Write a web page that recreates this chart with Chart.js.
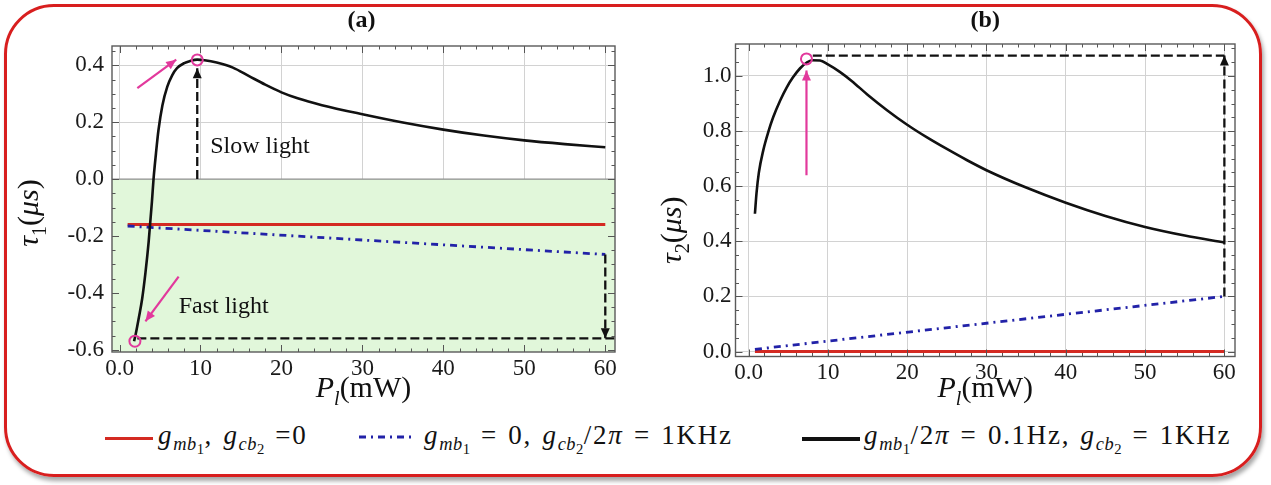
<!DOCTYPE html>
<html><head><meta charset="utf-8">
<script src="https://cdn.jsdelivr.net/npm/chart.js@4.4.1/dist/chart.umd.min.js"></script>
<style>
html,body{margin:0;padding:0;background:#fff;width:1271px;height:485px;overflow:hidden;position:relative;}
#frame{position:absolute;left:4px;top:4px;width:1252px;height:467px;border:3px solid #d81e1e;border-radius:50px;box-shadow:2px 4px 4px rgba(0,0,0,0.35);}
canvas{position:absolute;top:0;}
#ca{left:0;}
#cb{left:650px;}
.leg{position:absolute;top:421px;font-family:"Liberation Serif","Times New Roman",Tinos,"DejaVu Serif","Noto Serif",serif;font-size:27px;letter-spacing:1.7px;word-spacing:2px;color:#111;white-space:nowrap;line-height:28px;}
.leg i{font-style:italic;}
.leg sub{font-size:68%;vertical-align:-0.35em;line-height:0;letter-spacing:0.5px;}
.leg sub sub{font-size:80%;vertical-align:-0.3em;}
.sw{position:absolute;top:437px;height:0;}
</style></head>
<body>
<div id="frame"></div>
<canvas id="ca" width="650" height="410"></canvas>
<canvas id="cb" width="621" height="410"></canvas>

<div class="sw" style="left:105px;width:48px;border-top:3px solid #d42a22;"></div>
<div class="leg" style="left:158px;"><i>g</i><sub><i>mb</i><sub>1</sub></sub>, <i>g</i><sub><i>cb</i><sub>2</sub></sub> =0</div>
<svg style="position:absolute;left:359px;top:432px" width="52" height="10"><line x1="0" y1="5" x2="52" y2="5" stroke="#2222a8" stroke-width="3" stroke-dasharray="7,5,2,5"/></svg>
<div class="leg" style="left:424px;"><i>g</i><sub><i>mb</i><sub>1</sub></sub> = 0, <i>g</i><sub><i>cb</i><sub>2</sub></sub>/2<i>π</i> = 1KHz</div>
<div class="sw" style="left:802px;width:58px;border-top:4px solid #111;"></div>
<div class="leg" style="left:864px;"><i>g</i><sub><i>mb</i><sub>1</sub></sub>/2<i>π</i> = 0.1Hz, <i>g</i><sub><i>cb</i><sub>2</sub></sub> = 1KHz</div>

<script>
// ---------- data ----------
const xTicks = [0, 10, 20, 30, 40, 50, 60];
const yTicksA = [-0.6, -0.4, -0.2, 0.0, 0.2, 0.4];
const yTicksB = [0.0, 0.2, 0.4, 0.6, 0.8, 1.0];

// panel (a): tau_1
const blackAX = [1.8,2.0,2.4,2.8,3.2,3.6,4.0,4.2,4.5,4.8,5.3,5.9,6.5,7.1,8.0,8.7,9.6,10.5,12,14,16,18,20,22,25,30,35,40,45,50,55,60];
const blackAY = [-0.57,-0.545,-0.485,-0.42,-0.33,-0.22,-0.08,0.0,0.09,0.17,0.26,0.325,0.365,0.39,0.408,0.415,0.42,0.418,0.41,0.392,0.362,0.332,0.305,0.284,0.26,0.228,0.199,0.174,0.153,0.136,0.123,0.112];
const redAX = [1.0, 60];
const redAY = [-0.16, -0.16];
const blueAX = [1.0, 60];
const blueAY = [-0.165, -0.265];

// panel (b): tau_2
const blackBX = [0.8,1.0,1.3,1.85,2.5,3.1,4.0,4.8,5.6,6.5,7.3,8.0,9,10,11.5,13,15,17.5,20,22.5,25,27.5,30,35,40,45,50,55,60];
const blackBY = [0.50,0.575,0.65,0.73,0.798,0.85,0.912,0.958,0.995,1.028,1.048,1.057,1.056,1.042,1.015,0.982,0.932,0.875,0.823,0.777,0.735,0.695,0.658,0.595,0.54,0.492,0.452,0.421,0.396];
const redBX = [0.8, 60];
const redBY = [0.0, 0.0];
const blueBX = [0.8, 60];
const blueBY = [0.008, 0.2];

// annotations (a)
const slowArrowX = [9.6, 9.6],  slowArrowY = [0.0, 0.39];
const fastDashX = [2.2, 61.2],  fastDashY = [-0.56, -0.56];
const downArrowX = [60, 60],    downArrowY = [-0.265, -0.56];
const pinkUpX = [2.2, 7.0],     pinkUpY = [0.32, 0.42];
const pinkDownX = [7.3, 3.2],   pinkDownY = [-0.343, -0.5];
const circlesAX = [9.6, 1.9],   circlesAY = [0.419, -0.57];
// annotations (b)
const topDashX = [8.1, 60],     topDashY = [1.074, 1.074];
const upArrowX = [60, 60],      upArrowY = [0.2, 1.074];
const pinkBX = [7.3, 7.3],      pinkBY = [0.64, 1.02];
const circlesBX = [7.3],        circlesBY = [1.062];

// ---------- helpers ----------
const pts = (xs, ys) => xs.map((x, i) => ({x, y: ys[i]}));
const FONT = '"Liberation Serif", "Times New Roman", Tinos, "DejaVu Serif", "Noto Serif", serif';
const PINK = '#e2399c';
const BLUE = '#2222a8';

function drawRich(ctx, segs, x, y, base, rot) {
  ctx.save();
  ctx.translate(x, y);
  if (rot) ctx.rotate(rot);
  ctx.textBaseline = 'alphabetic';
  ctx.textAlign = 'left';
  ctx.fillStyle = '#111';
  const fontOf = s => `${s.i ? 'italic ' : ''}${s.b ? 'bold ' : ''}${s.sub ? Math.round(base * 0.68) : base}px ${FONT}`;
  let total = 0;
  segs.forEach(s => { ctx.font = fontOf(s); total += ctx.measureText(s.t).width; });
  let cx = -total / 2;
  segs.forEach(s => {
    ctx.font = fontOf(s);
    ctx.fillText(s.t, cx, s.sub ? base * 0.28 : 0);
    cx += ctx.measureText(s.t).width;
  });
  ctx.restore();
}

const decor = {
  id: 'decor',
  beforeDatasetsDraw(chart, args, o) {
    const {ctx, chartArea: a, scales: {x, y}} = chart;
    if (o.green) {
      const y0 = y.getPixelForValue(0);
      ctx.save();
      ctx.fillStyle = '#e1f7da';
      ctx.fillRect(a.left, y0, a.right - a.left, a.bottom - y0);
      ctx.strokeStyle = '#8f8f8f';
      ctx.lineWidth = 1.2;
      ctx.beginPath(); ctx.moveTo(a.left, y0); ctx.lineTo(a.right, y0); ctx.stroke();
      ctx.restore();
    }
  },
  afterDatasetsDraw(chart, args, o) {
    const {ctx, chartArea: a, scales: {x, y}} = chart;
    ctx.save();
    chart.data.datasets.forEach((ds, i) => {
      if (!ds.arrowHead) return;
      const d = chart.getDatasetMeta(i).data;
      const p1 = d[d.length - 2], p2 = d[d.length - 1];
      const ang = Math.atan2(p2.y - p1.y, p2.x - p1.x);
      const L = ds.arrowHead.len, W = ds.arrowHead.w;
      ctx.fillStyle = ds.borderColor;
      ctx.beginPath();
      ctx.moveTo(p2.x, p2.y);
      ctx.lineTo(p2.x - L * Math.cos(ang) + W * Math.sin(ang), p2.y - L * Math.sin(ang) - W * Math.cos(ang));
      ctx.lineTo(p2.x - L * Math.cos(ang) - W * Math.sin(ang), p2.y - L * Math.sin(ang) + W * Math.cos(ang));
      ctx.closePath(); ctx.fill();
    });
    ctx.strokeStyle = '#555';
    ctx.lineWidth = 1;
    const tickX = (v, len) => {
      const px = Math.round(x.getPixelForValue(v)) + 0.5;
      ctx.beginPath(); ctx.moveTo(px, a.bottom); ctx.lineTo(px, a.bottom - len);
      ctx.moveTo(px, a.top); ctx.lineTo(px, a.top + len); ctx.stroke();
    };
    const tickY = (v, len) => {
      const py = Math.round(y.getPixelForValue(v)) + 0.5;
      ctx.beginPath(); ctx.moveTo(a.left, py); ctx.lineTo(a.left + len, py);
      ctx.moveTo(a.right, py); ctx.lineTo(a.right - len, py); ctx.stroke();
    };
    for (let k = Math.ceil(x.min / o.xMinor); k * o.xMinor <= x.max; k++) tickX(k * o.xMinor, 3.5);
    for (let k = Math.ceil(y.min / o.yMinor - 1e-6); k * o.yMinor <= y.max + 1e-9; k++) tickY(k * o.yMinor, 3.5);
    xTicks.forEach(v => tickX(v, 7));
    o.yTicks.forEach(v => tickY(v, 7));
    ctx.strokeStyle = '#5a5a5a';
    ctx.lineWidth = 1.4;
    ctx.strokeRect(a.left, a.top, a.right - a.left, a.bottom - a.top);
    ctx.fillStyle = '#111';
    ctx.font = `24px ${FONT}`;
    ctx.textBaseline = 'middle';
    ctx.textAlign = 'left';
    (o.notes || []).forEach(n => ctx.fillText(n.text, x.getPixelForValue(n.x), y.getPixelForValue(n.y)));
    ctx.restore();
    const cxm = (a.left + a.right) / 2;
    drawRich(ctx, [{t: o.panel, b: true}], cxm + o.panelDx, o.panelY, 24);
    drawRich(ctx, [{t: 'P', i: true}, {t: 'l', i: true, sub: true}, {t: '(mW)'}], cxm, o.xTitleY, 30);
    drawRich(ctx, o.yTitle, o.yTitleX, (a.top + a.bottom) / 2 + o.yTitleDy, 30, -Math.PI / 2);
  }
};

function makeChart(id, cfg) {
  const fixedY = cfg.yWidth, fixedX = cfg.xHeight;
  return new Chart(document.getElementById(id), {
    type: 'scatter',
    data: {datasets: cfg.datasets},
    plugins: [decor],
    options: {
      responsive: false,
      animation: false,
      events: [],
      layout: {padding: {left: 0, top: cfg.top, right: cfg.right, bottom: 0}},
      elements: {point: {radius: 0}, line: {borderCapStyle: 'butt'}},
      plugins: {legend: {display: false}, tooltip: {enabled: false}, decor: cfg.decor},
      scales: {
        x: {
          type: 'linear', min: cfg.xMin, max: cfg.xMax,
          afterBuildTicks: s => { s.ticks = xTicks.map(v => ({value: v})); },
          afterFit: s => { s.height = fixedX; },
          grid: {color: '#d2d2d2', lineWidth: 1, drawTicks: false},
          border: {display: false},
          ticks: {font: {family: FONT, size: 23}, color: '#1a1a1a', padding: 3, maxRotation: 0,
                  callback: v => v === 0 ? '0.0' : String(v)}
        },
        y: {
          type: 'linear', min: cfg.yMin, max: cfg.yMax,
          afterBuildTicks: s => { s.ticks = cfg.yTicks.map(v => ({value: v})); },
          afterFit: s => { s.width = fixedY; },
          grid: {color: '#d2d2d2', lineWidth: 1, drawTicks: false},
          border: {display: false},
          ticks: {font: {family: FONT, size: 23}, color: '#1a1a1a', padding: cfg.yPad,
                  callback: v => Number(v).toFixed(1)}
        }
      }
    }
  });
}

const dashStyle = {borderColor: '#111', borderWidth: 2.3, borderDash: [9, 4], showLine: true, pointRadius: 0};
const blueStyle = {borderColor: BLUE, borderWidth: 2.8, borderDash: [7, 5, 2, 5], showLine: true};

makeChart('ca', {
  top: 46, right: 35, yWidth: 112, xHeight: 58, yPad: 8,
  xMin: -0.93, xMax: 61.2, yMin: -0.608, yMax: 0.468, yTicks: yTicksA,
  decor: {green: true, xMinor: 2, yMinor: 0.05, yTicks: yTicksA, panel: '(a)', panelDx: -2, panelY: 27,
          xTitleY: 397, yTitleX: 38, yTitleDy: 14,
          yTitle: [{t: 'τ', i: true}, {t: '1', sub: true}, {t: '('}, {t: 'μs', i: true}, {t: ')'}],
          notes: [{x: 11.2, y: 0.114, text: 'Slow light'}, {x: 7.3, y: -0.45, text: 'Fast light'}]},
  datasets: [
    {data: pts(circlesAX, circlesAY), pointRadius: 5.5, pointBorderWidth: 2, pointBorderColor: PINK, pointBackgroundColor: 'rgba(0,0,0,0)', showLine: false},
    {data: pts(pinkUpX, pinkUpY), borderColor: PINK, borderWidth: 2.2, showLine: true, arrowHead: {len: 10, w: 4.5}},
    {data: pts(pinkDownX, pinkDownY), borderColor: PINK, borderWidth: 2.2, showLine: true, arrowHead: {len: 10, w: 4.5}},
    {data: pts(slowArrowX, slowArrowY), ...dashStyle, arrowHead: {len: 10, w: 4.5}},
    {data: pts(downArrowX, downArrowY), ...dashStyle, arrowHead: {len: 10, w: 4.5}},
    {data: pts(fastDashX, fastDashY), ...dashStyle},
    {data: pts(blackAX, blackAY), borderColor: '#111', borderWidth: 2.6, showLine: true, cubicInterpolationMode: 'monotone'},
    {data: pts(blueAX, blueAY), ...blueStyle},
    {data: pts(redAX, redAY), borderColor: '#d42a22', borderWidth: 3, showLine: true}
  ]
});

makeChart('cb', {
  top: 44, right: 36, yWidth: 85.5, xHeight: 53.5, yPad: 4,
  xMin: -1.65, xMax: 61.34, yMin: -0.018, yMax: 1.116, yTicks: yTicksB,
  decor: {green: false, xMinor: 2, yMinor: 0.05, yTicks: yTicksB, panel: '(b)', panelDx: 0, panelY: 27,
          xTitleY: 397, yTitleX: 31, yTitleDy: 30,
          yTitle: [{t: 'τ', i: true}, {t: '2', sub: true}, {t: '('}, {t: 'μs', i: true}, {t: ')'}],
          notes: []},
  datasets: [
    {data: pts(circlesBX, circlesBY), pointRadius: 5.5, pointBorderWidth: 2, pointBorderColor: PINK, pointBackgroundColor: 'rgba(0,0,0,0)', showLine: false},
    {data: pts(pinkBX, pinkBY), borderColor: PINK, borderWidth: 2.2, showLine: true, arrowHead: {len: 10, w: 4.5}},
    {data: pts(upArrowX, upArrowY), ...dashStyle, arrowHead: {len: 10, w: 4.5}},
    {data: pts(topDashX, topDashY), ...dashStyle},
    {data: pts(blackBX, blackBY), borderColor: '#111', borderWidth: 2.6, showLine: true, cubicInterpolationMode: 'monotone'},
    {data: pts(blueBX, blueBY), ...blueStyle},
    {data: pts(redBX, redBY), borderColor: '#d42a22', borderWidth: 3, showLine: true}
  ]
});
</script>
</body></html>
